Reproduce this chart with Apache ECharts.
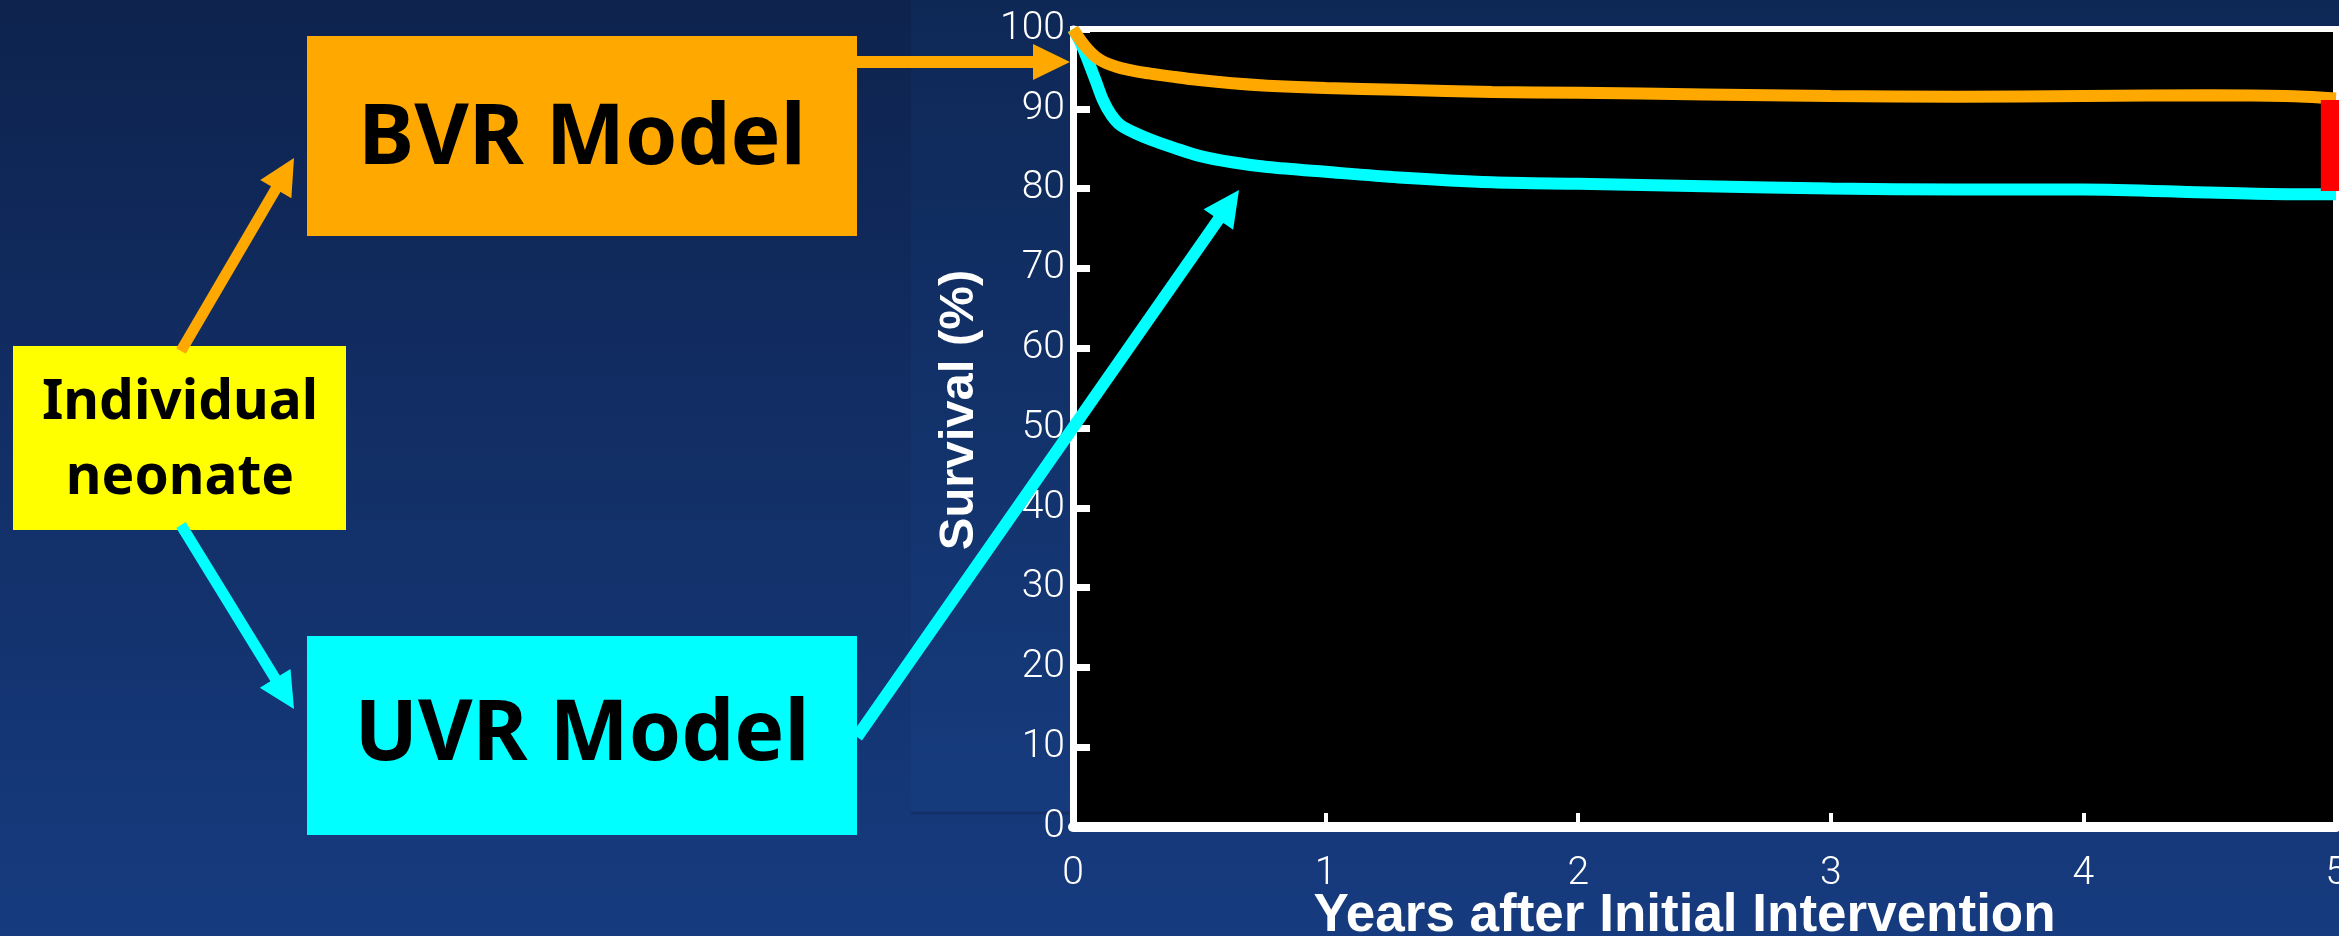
<!DOCTYPE html>
<html>
<head>
<meta charset="utf-8">
<script src="https://cdn.jsdelivr.net/npm/echarts@6/dist/echarts.min.js"></script>
<style>
  html, body { margin: 0; padding: 0; background: #0f2550; }
  #chart { width: 2339px; height: 936px; }
</style>
</head>
<body>
<div id="chart"></div>
<script>
// Follow-up time (years) shared by both survival curves
const years = [0, 0.03, 0.06, 0.09, 0.12, 0.15, 0.19, 0.25, 0.31, 0.4, 0.5, 0.63, 0.77, 1.0, 1.29, 1.66, 2.0, 2.5, 3.0, 3.5, 4.0, 4.5, 4.8, 5.0];
// Biventricular repair survival (%)
const bvrSurvival = [100, 98.6, 97.4, 96.5, 95.9, 95.5, 95.1, 94.7, 94.4, 94.0, 93.6, 93.2, 92.9, 92.6, 92.4, 92.1, 92.0, 91.8, 91.6, 91.5, 91.6, 91.7, 91.6, 91.3];
// Univentricular repair survival (%)
const uvrSurvival = [100, 98.3, 96.0, 93.5, 91.0, 89.3, 87.9, 86.9, 86.1, 85.1, 84.1, 83.3, 82.7, 82.1, 81.4, 80.8, 80.6, 80.3, 80.0, 79.9, 79.9, 79.5, 79.3, 79.3];
// Survival gap at five years: [x start, x end, low %, high %]
const gapBand = [[4.94, 5.02, 79.7, 91.1]];
// Axis ticks
const xTicks = [0, 1, 2, 3, 4, 5];
const yTicks = [0, 10, 20, 30, 40, 50, 60, 70, 80, 90, 100];

// Box captions
const boxLabels = { bvr: 'BVR Model', uvr: 'UVR Model', neonate: ['Individual', 'neonate'] };

const ORANGE = '#FFA800';
const CYAN = '#00FFFF';
const YELLOW = '#FFFF00';

const chart = echarts.init(document.getElementById('chart'), null, { renderer: 'canvas' });

// Straight arrow: shaft plus triangular head ending at (x2, y2)
function arrow(x1, y1, x2, y2, color, width, headLen, headW) {
  const dx = x2 - x1, dy = y2 - y1;
  const len = Math.sqrt(dx * dx + dy * dy);
  const ux = dx / len, uy = dy / len;
  const bx = x2 - ux * headLen, by = y2 - uy * headLen;
  const px = -uy * headW / 2, py = ux * headW / 2;
  return [
    { type: 'line', z: 100, shape: { x1: x1, y1: y1, x2: bx + ux * 2, y2: by + uy * 2 },
      style: { stroke: color, lineWidth: width } },
    { type: 'polygon', z: 100, shape: { points: [[x2, y2], [bx + px, by + py], [bx - px, by - py]] },
      style: { fill: color } }
  ];
}

function box(x, y, w, h, fill) {
  return { type: 'rect', z: 90, shape: { x: x, y: y, width: w, height: h }, style: { fill: fill } };
}

function caption(text, cx, cy, size) {
  return { type: 'text', z: 95, x: cx, y: cy,
    style: { text: text, fill: '#000', font: 'bold ' + size + 'px "Noto Sans", "Open Sans", sans-serif',
      textAlign: 'center', textVerticalAlign: 'middle' } };
}

const graphics = [
  // pasted figure panel behind the plot
  { type: 'rect', z: -10, shape: { x: 911, y: 0, width: 1428, height: 813 },
    style: { fill: new echarts.graphic.LinearGradient(0, 0, 0, 1, [
      { offset: 0, color: '#0e2856' }, { offset: 1, color: '#163b7d' }]) } },
  { type: 'line', z: -9, shape: { x1: 911, y1: 813, x2: 2339, y2: 813 },
    style: { stroke: '#122f68', lineWidth: 3 } },
  box(307, 36, 550, 200, ORANGE),
  box(307, 636, 550, 199, CYAN),
  box(13, 346, 333, 184, YELLOW),
  caption(boxLabels.bvr, 582, 140, 84),
  caption(boxLabels.uvr, 582, 736, 84),
  caption(boxLabels.neonate[0], 180, 403, 55),
  caption(boxLabels.neonate[1], 180, 478, 55)
]
  .concat(arrow(181, 351, 294, 158, ORANGE, 11, 36, 36))
  .concat(arrow(181, 525, 294, 709, CYAN, 11, 36, 36))
  .concat(arrow(857, 62, 1070, 62, ORANGE, 12, 37, 36))
  .concat(arrow(857, 737, 1239, 190, CYAN, 12, 36, 36));

const tickFont = { color: '#ffffff', fontFamily: 'Roboto, "Liberation Sans", sans-serif', fontWeight: 300, fontSize: 39 };

const option = {
  animation: false,
  backgroundColor: new echarts.graphic.LinearGradient(0, 0, 0, 1, [
    { offset: 0, color: '#0e234e' }, { offset: 1, color: '#163b7f' }]),
  graphic: graphics,
  grid: {
    left: 1073, top: 29, right: 3, bottom: 109,
    outerBoundsMode: 'none', containLabel: false,
    show: true, backgroundColor: '#000000', borderColor: '#ffffff', borderWidth: 6
  },
  xAxis: {
    type: 'value', min: xTicks[0], max: xTicks[xTicks.length - 1], interval: 1,
    name: 'Years after Initial Intervention', nameLocation: 'middle', nameGap: 63, nameMoveOverlap: false,
    nameTextStyle: { color: '#ffffff', fontFamily: '"Liberation Sans", Arial, sans-serif', fontWeight: 'bold', fontSize: 53, padding: [0, 40, 0, 0] },
    axisLine: { show: true, lineStyle: { color: '#ffffff', width: 10 } },
    axisTick: { show: true, inside: true, length: 14, lineStyle: { color: '#ffffff', width: 4 } },
    axisLabel: Object.assign({ margin: 28 }, tickFont),
    splitLine: { show: false }
  },
  yAxis: {
    type: 'value', min: yTicks[0], max: yTicks[yTicks.length - 1], interval: 10,
    name: 'Survival (%)', nameLocation: 'middle', nameGap: 89, nameMoveOverlap: false,
    nameTextStyle: { color: '#ffffff', fontFamily: '"Liberation Sans", Arial, sans-serif', fontWeight: 'bold', fontSize: 49, padding: [0, 0, 0, 36] },
    axisLine: { show: true, lineStyle: { color: '#ffffff', width: 7 } },
    axisTick: { show: true, inside: true, length: 17, lineStyle: { color: '#ffffff', width: 7 } },
    axisLabel: Object.assign({ margin: 8 }, tickFont),
    splitLine: { show: false }
  },
  series: [
    {
      name: 'UVR', type: 'line', smooth: 0.3, showSymbol: false, z: 3,
      data: years.map((x, i) => [x, uvrSurvival[i]]),
      lineStyle: { color: CYAN, width: 12 }
    },
    {
      name: 'BVR', type: 'line', smooth: 0.3, showSymbol: false, z: 4,
      data: years.map((x, i) => [x, bvrSurvival[i]]),
      lineStyle: { color: ORANGE, width: 12 }
    },
    {
      name: 'Gap', type: 'custom', clip: false, z: 5,
      data: gapBand,
      encode: { x: [0, 1], y: [2, 3] },
      renderItem: function (params, api) {
        const p0 = api.coord([api.value(0), api.value(3)]);
        const p1 = api.coord([api.value(1), api.value(2)]);
        return { type: 'rect', shape: { x: p0[0], y: p0[1], width: p1[0] - p0[0], height: p1[1] - p0[1] },
          style: { fill: '#ff0000' } };
      }
    }
  ]
};

chart.setOption(option);
</script>
</body>
</html>
